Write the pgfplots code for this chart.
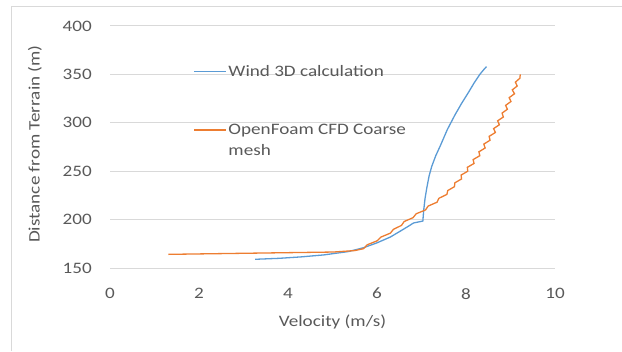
\documentclass[border=0pt]{standalone}
\usepackage{pgfplots}
\pgfplotsset{compat=1.18}
\usepackage{fontspec}
\setmainfont{Carlito}[FakeStretch=1.2]
\definecolor{xblue}{HTML}{5B9BD5}
\definecolor{xorange}{HTML}{ED7D31}
\definecolor{xgrid}{HTML}{D9D9D9}
\definecolor{xtext}{HTML}{595959}
\begin{document}
\begin{tikzpicture}[x=1bp,y=1bp]
\useasboundingbox (0,0) rectangle (622,351);
\draw[xgrid, line width=1bp] (11,0) -- (11,344) -- (622,344);
\begin{axis}[
  at={(110bp,83bp)}, anchor=south west,
  scale only axis, width=445bp, height=242bp,
  xmin=0, xmax=10, ymin=150, ymax=400,
  xtick={0,2,...,10}, ytick={150,200,...,400},
  ymajorgrids, grid style={xgrid, line width=1bp},
  axis line style={draw=none},
  major tick length=0pt,
  /pgf/number format/assume math mode=true,
  ticklabel style={font=\fontsize{16}{19}\selectfont, text=xtext},
  yticklabel style={anchor=east, inner sep=0pt, xshift=-18bp},
  xticklabel style={anchor=north, inner sep=0pt, yshift=-20bp},
  xlabel={Velocity (m/s)},
  ylabel={Distance from Terrain (m)},
  label style={font=\fontsize{16}{19}\selectfont, text=xtext},
  xlabel style={at={(rel axis cs:0.5,0)}, anchor=center, yshift=-54bp},
  ylabel style={at={(rel axis cs:0,0.512)}, anchor=center, yshift=75bp},
  legend style={at={(axis cs:1.876,361.2)}, anchor=north west, draw=none, fill=none,
    inner sep=0pt, row sep=38bp, column sep=0pt,
    font=\fontsize{16}{23}\selectfont, text=xtext,
    nodes={inner sep=1.5bp},
    cells={anchor=base west}},
  legend image code/.code={\path (0bp,0bp); \draw[#1] (0bp,5bp) -- (32bp,5bp);},
]
\addplot[xblue, line width=1.3bp] coordinates {
(3.26,159) (3.8,160) (4.3,161.5) (4.8,163.5) (5.36,167) (5.7,171) (6.0,176)
(6.3,182) (6.52,188) (6.7,193) (6.82,196.5) (7.03,198.5)
(7.05,210) (7.08,222) (7.12,233) (7.17,245) (7.23,255) (7.32,266) (7.42,276)
(7.58,293) (7.75,308) (7.90,320) (8.05,331) (8.18,341) (8.31,350) (8.40,355) (8.46,358)
};
\addlegendentry{Wind 3D calculation}
\addplot[xorange, line width=1.3bp] coordinates {
(1.31,164.1) (3.0,165.2) (5.02,166.5) (5.50,168)
(5.70,170) (5.78,174) (6.00,178) (6.09,182) (6.30,186) (6.37,190) (6.55,194) (6.61,198)
(6.81,202) (6.88,206) (7.09,210) (7.15,214) (7.35,218) (7.39,222) (7.57,226) (7.59,230)
(7.74,234) (7.75,238) (7.90,242) (7.89,246) (8.04,250) (8.03,254) (8.18,258) (8.16,262)
(8.31,266) (8.29,270) (8.43,274) (8.40,278) (8.54,282) (8.52,286) (8.66,290) (8.62,294)
(8.75,298) (8.71,302) (8.84,306) (8.81,310) (8.93,314) (8.89,318) (9.01,322) (8.97,326)
(9.09,330) (9.04,334) (9.15,338) (9.11,342) (9.21,346) (9.22,350)
};
\addlegendentry{\begin{tabular}[t]{@{}l@{}}OpenFoam CFD Coarse\\[-2bp]mesh\end{tabular}}
\end{axis}
\end{tikzpicture}
\end{document}
